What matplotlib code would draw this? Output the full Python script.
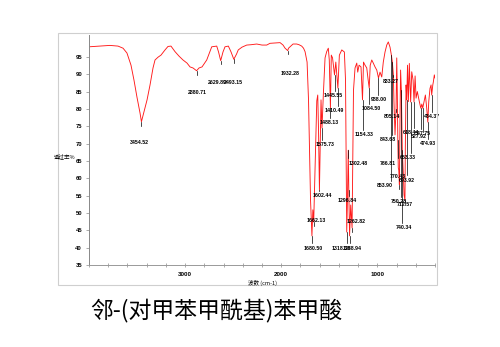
import numpy as np
import matplotlib.pyplot as plt
from matplotlib.patches import Rectangle

plt.rcParams['font.family'] = ['Liberation Sans', 'Noto Sans CJK SC', 'DejaVu Sans']

# IR spectrum: wavenumber (cm-1) and transmittance (%)
wavenumber = [4000, 3886, 3782, 3698, 3646, 3605, 3563, 3532, 3501, 3469,
              3454.52, 3428, 3396, 3365, 3334, 3313, 3282, 3251, 3209, 3178,
              3147, 3105, 3063, 3022, 2980, 2949, 2918, 2880.71, 2855, 2824,
              2775, 2723, 2671, 2652, 2629.89, 2606, 2585, 2550, 2522, 2493.15,
              2465, 2447, 2408, 2359, 2314, 2255, 2200, 2151, 2117, 2064,
              2012, 1981, 1960, 1932.28, 1924, 1908, 1877, 1839, 1815, 1787,
              1768, 1752, 1731, 1716, 1706, 1695, 1680.50, 1671, 1662.13, 1652,
              1643, 1630, 1620, 1612, 1602.44, 1593, 1586, 1575.73, 1562, 1544,
              1527, 1510, 1500, 1488.13, 1479, 1466, 1445.55, 1432, 1410.49, 1395,
              1370, 1343, 1331, 1318.38, 1311, 1302.48, 1296.84, 1288.94, 1277, 1262.82,
              1255, 1248, 1232, 1214, 1204, 1190, 1170, 1154.33, 1144, 1128,
              1110, 1098, 1084.50, 1074, 1058, 1042, 1024, 1006, 988.00, 972,
              954, 938, 920, 902, 886, 868, 853.90, 843.68, 833.27, 827,
              816, 805.14, 798, 792, 786.81, 782, 777, 770.43, 764, 758,
              750.28, 740.34, 729, 722, 712.57, 709, 701, 693.92, 686, 677,
              667, 653.33, 642, 628, 618.44, 607, 597, 584, 563, 547.75,
              537, 527.92, 514, 500, 486, 474.93, 465, 452, 441, 434.37,
              423, 417, 407, 400]
transmittance = [97.9, 98.1, 98.3, 98.1, 97.5, 96.1, 92.6, 88.3, 83.4, 78.8,
                 76.3, 79.1, 82.6, 86.9, 91.8, 94.1, 94.9, 95.5, 97.0, 98.0,
                 98.1, 96.5, 95.2, 94.1, 93.2, 92.1, 91.8, 91.0, 91.8, 92.1,
                 94.1, 97.9, 98.1, 96.4, 93.9, 96.4, 97.9, 98.1, 96.4, 94.3,
                 95.8, 97.0, 97.8, 98.4, 98.5, 98.7, 98.4, 98.4, 98.9, 99.0,
                 99.1, 98.4, 97.5, 96.8, 97.5, 97.9, 98.7, 98.7, 98.5, 98.1,
                 97.5, 96.5, 93.5, 82.6, 68.1, 53.7, 43.4, 50.9, 47.4, 58.1,
                 68.1, 82.3, 84.0, 73.9, 56.6, 71.0, 82.6, 74.5, 84.0, 94.7,
                 96.5, 97.5, 94.1, 80.2, 95.5, 94.7, 89.8, 93.5, 86.0, 95.5,
                 97.0, 96.4, 88.3, 44.5, 53.7, 68.1, 56.6, 43.4, 52.3, 45.7,
                 68.1, 85.4, 91.8, 93.2, 90.6, 92.6, 92.1, 82.6, 93.5, 92.6,
                 91.8, 88.9, 86.0, 92.6, 94.1, 93.2, 92.1, 91.2, 88.9, 90.6,
                 89.2, 93.5, 96.4, 98.4, 99.3, 97.8, 95.5, 93.5, 89.8, 82.1,
                 72.5, 80.0, 94.7, 84.0, 71.0, 63.0, 62.4, 58.1, 77.4, 91.2,
                 85.4, 68.1, 60.9, 55.2, 53.7, 68.1, 86.9, 82.6, 92.6, 82.1,
                 93.1, 82.0, 90.7, 88.3, 82.0, 89.5, 83.1, 85.0, 82.1, 80.2,
                 81.4, 80.2, 82.1, 84.0, 80.2, 76.2, 82.1, 85.9, 86.9, 84.0,
                 86.9, 87.8, 89.8, 88.9]

# labelled peaks and the transmittance level where each label sits
peaks = [3454.52, 2880.71, 2629.89, 2493.15, 1932.28, 1680.50, 1662.13, 1602.44,
         1575.73, 1488.13, 1445.55, 1410.49, 1318.38, 1302.48, 1296.84, 1288.94,
         1262.82, 1154.33, 1084.50, 988.00, 853.90, 843.68, 833.27, 805.14,
         786.81, 770.43, 750.28, 740.34, 712.57, 693.92, 653.33, 618.44,
         547.75, 527.92, 474.93, 434.37]
label_level = [70.2, 84.6, 87.5, 87.7, 90.3, 39.9, 47.7, 54.9,
               69.6, 76.2, 84.0, 79.4, 39.9, 64.4, 53.7, 39.9,
               47.4, 72.5, 80.2, 82.6, 57.8, 71.3, 88.0, 77.7,
               64.4, 60.4, 53.2, 45.7, 52.3, 59.5, 66.1, 73.3,
               73.0, 71.9, 69.9, 77.9]
# horizontal nudge of each label (pixels) and whether it only gets a short tick
label_dx = [-2, 1, -3, 0, 2, 1, 3, 3, 3, -1, -1, -4, -6, 10, -2, 3,
            4, 2, 2, 0, -7, -4, -3, -4, -10, -2, -3, 2, 0, 0, -3, -3,
            2, -4, 0, 0]
short_tick = [True, True, True, True, True] + [False] * 31

x_major = [3000, 2000, 1000]
x_minor = list(range(400, 4001, 200))
y_ticks = list(range(35, 96, 5))

fig = plt.figure(figsize=(5, 3.47), dpi=100)

# light frame around the plot area
fig.patches.append(Rectangle((58 / 500, 1 - 285 / 347), 379 / 500, 252 / 347,
                             transform=fig.transFigure, fill=False,
                             edgecolor='#cfcfcf', linewidth=0.8))

ax = fig.add_axes([89 / 500, 82 / 347, 346 / 500, 230 / 347])
ax.plot(wavenumber, transmittance, color='#ff1a1a', linewidth=0.65, zorder=2)

for w, lev, dx, short in zip(peaks, label_level, label_dx, short_tick):
    t = np.interp(w, wavenumber[::-1], transmittance[::-1])
    if short or lev > t - 1.5:
        ax.plot([w, w], [t, t - 1.1], color='black', linewidth=0.5, zorder=3)
    else:
        ax.plot([w, w], [t, lev + 1.3], color='black', linewidth=0.5, zorder=3)
    ax.annotate('%.2f' % w, xy=(w, lev), xytext=(dx * 0.72, 0),
                textcoords='offset points', ha='center', va='center',
                fontsize=3.8, fontweight='bold', color='black', zorder=4)

ax.set_xlim(4000, 400)
ax.set_ylim(35, 101.3)
ax.set_xticks(x_major)
ax.set_xticklabels([str(v) for v in x_major], fontsize=4.5, fontweight='bold')
ax.set_xticks(x_minor, minor=True)
ax.set_yticks(y_ticks)
ax.set_yticklabels([str(v) for v in y_ticks], fontsize=4.2, fontweight='bold')
ax.tick_params(axis='x', which='both', direction='inout', length=2.5,
               width=0.5, color='#888888', pad=4)
ax.tick_params(axis='y', direction='out', length=2, width=0.5,
               color='#888888', pad=3)

for side in ['top', 'right']:
    ax.spines[side].set_visible(False)
ax.spines['left'].set_linestyle((0, (1, 1)))
ax.spines['left'].set_color('#888888')
ax.spines['left'].set_linewidth(0.7)
ax.spines['bottom'].set_color('#999999')
ax.spines['bottom'].set_linewidth(0.7)

fig.text(263 / 500, 1 - 283 / 347, '波数 (cm-1)', fontsize=4, ha='center',
         va='center', family=['Noto Sans CJK SC', 'DejaVu Sans'])
fig.text(65 / 500, 1 - 156 / 347, '透过率%', fontsize=4, ha='center',
         va='center', family=['Noto Sans CJK SC', 'DejaVu Sans'])

fig.text(90 / 500, 1 - 310 / 347, '邻-(对甲苯甲酰基)苯甲酸', fontsize=16.5,
         ha='left', va='center', fontweight='light',
         family=['Noto Sans CJK SC', 'DejaVu Sans'])

fig.savefig('out.png', dpi=100)
